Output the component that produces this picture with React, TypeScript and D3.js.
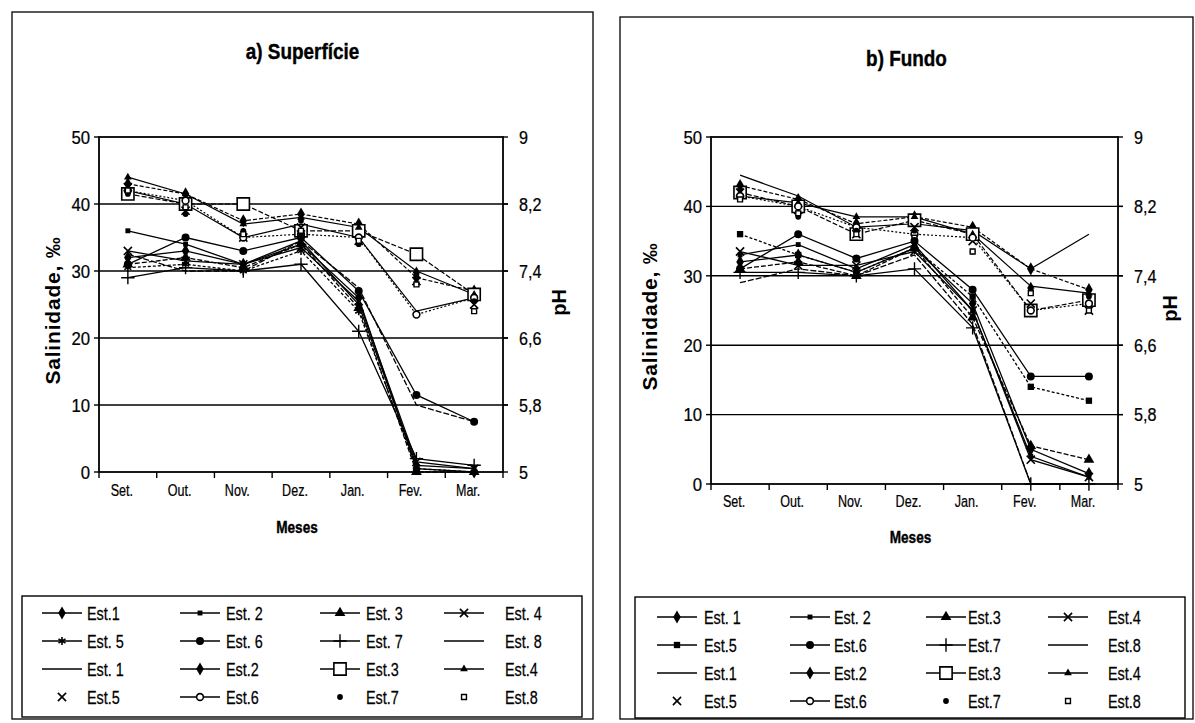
import * as d3 from 'd3';

const MONTHS = ['Set.', 'Out.', 'Nov.', 'Dez.', 'Jan.', 'Fev.', 'Mar.'];
const SAL_TICKS = [0, 10, 20, 30, 40, 50];
const PH_TICKS = [5, 5.8, 6.6, 7.4, 8.2, 9];

// Salinidade (‰), Est.1 .. Est.8
const SAL_SUPERFICIE = [
  [32, 33, 31, 34, 26, 0.5, 0],
  [36, 34, 31, 34.5, 25, 1, 0.5],
  [31, 32, 30.5, 34, 24.5, 0, 0],
  [33, 31.5, 31, 33.5, 25.5, 1.5, 0.5],
  [30.5, 31, 30, 33, 24, 0.5, 0],
  [31, 35, 33, 35, 27, 11.5, 7.5],
  [29, 30.5, 30, 31, 21, 2, 1],
  [32.5, 30, 30, 34.5, 27.5, 10, 7.5],
];
// pH, Est.1 .. Est.8
const PH_SUPERFICIE = [
  [8.36, 8.2, 7.8, 7.96, 7.8, 6.92, 7.08],
  [8.44, 8.32, 8.0, 8.08, 7.96, 7.32, 7.16],
  [8.32, 8.2, 8.2, 7.88, 7.88, 7.6, 7.12],
  [8.52, 8.32, 7.96, 8.04, 7.92, 7.4, 7.12],
  [8.4, 8.12, 7.8, 7.92, 7.76, 7.28, 7.0],
  [8.36, 8.24, 7.8, 7.84, 7.8, 6.88, 7.08],
  [8.32, 8.08, 7.88, 8.0, 7.72, 7.36, 7.04],
  [8.36, 8.16, 7.84, 7.88, 7.76, 7.24, 6.92],
];
const SAL_FUNDO = [
  [32, 33, 30.5, 34, 26, 5, 1.5],
  [33, 34.5, 31, 34.5, 25, 4, 1],
  [31, 32, 30, 34, 24, 5.5, 3.5],
  [33.5, 31.5, 31.5, 33.5, 25, 3.5, 1],
  [36, 33, 30.5, 34, 27, 14, 12],
  [31, 36, 32.5, 35, 28, 15.5, 15.5],
  [30.5, 30.5, 30, 31, 22.5, 0, 0],
  [29, 31, 30, 33, 23, 0, 0],
];
const PH_FUNDO = [
  [8.56, 8.32, 7.96, 8.0, 7.92, 7.48, 7.88],
  [8.44, 8.28, 8.0, 8.08, 7.96, 7.48, 7.24],
  [8.36, 8.2, 7.88, 8.04, 7.88, 7.0, 7.12],
  [8.32, 8.24, 8.08, 8.08, 7.88, 7.28, 7.2],
  [8.36, 8.16, 7.88, 7.96, 7.8, 7.08, 7.0],
  [8.32, 8.2, 7.96, 7.88, 7.84, 7.0, 7.08],
  [8.4, 8.08, 7.92, 7.92, 7.68, 7.24, 7.16],
  [8.28, 8.12, 7.88, 7.84, 7.68, 7.2, 7.0],
];

const LEGEND_A = [
  'Est.1', 'Est. 2', 'Est. 3', 'Est. 4', 'Est. 5', 'Est. 6', 'Est. 7', 'Est. 8',
  'Est. 1', 'Est.2', 'Est.3', 'Est.4', 'Est.5', 'Est.6', 'Est.7', 'Est.8',
];
const LEGEND_B = [
  'Est. 1', 'Est. 2', 'Est.3', 'Est.4', 'Est.5', 'Est.6', 'Est.7', 'Est.8',
  'Est.1', 'Est.2', 'Est.3', 'Est.4', 'Est.5', 'Est.6', 'Est.7', 'Est.8',
];

// marker / line style per series
const SAL_MARKERS_A = ['diamond', 'square', 'triangle', 'x', 'asterisk', 'circle', 'plus', 'none'];
const SAL_MARKERS_B = ['diamond', 'square', 'triangle', 'x', 'bigSquare', 'circle', 'plus', 'none'];
const PH_MARKERS = ['none', 'diamond', 'openSquare', 'smallTriangle', 'x', 'openCircle', 'dot', 'smallOpenSquare'];
const PH_HAS_LINE = [true, true, true, true, false, true, false, false];
const SAL_DASH = ['', '', '5,2', '', '3,2', '', '', '6,2'];
const PH_DASH = ['', '4,2', '5,2', '', '', '2,2', '', ''];

const FONT = '"Liberation Sans", Arial, sans-serif';

function CText({ x, y, size, sx = 0.8, bold = false, anchor = 'start', dy, children }: any) {
  return (
    <text
      transform={`translate(${x},${y}) scale(${sx},1)`}
      dy={dy}
      textAnchor={anchor}
      fontFamily={FONT}
      fontSize={size}
      fontWeight={bold ? 'bold' : 'normal'}
      stroke="#000"
      strokeWidth={bold ? 0.4 : 0.25}
    >
      {children}
    </text>
  );
}

function Marker({ kind, x, y }: { kind: string; x: number; y: number }) {
  const t = `translate(${x},${y})`;
  const sym = (type: d3.SymbolType, size: number) => d3.symbol().type(type).size(size)() || '';
  switch (kind) {
    case 'diamond':
      return <path transform={t} d={sym(d3.symbolDiamond, 50)} fill="#000" />;
    case 'square':
      return <path transform={t} d={sym(d3.symbolSquare, 24)} fill="#000" />;
    case 'bigSquare':
      return <path transform={t} d={sym(d3.symbolSquare, 40)} fill="#000" />;
    case 'triangle':
      return <path transform={t} d={sym(d3.symbolTriangle, 50)} fill="#000" />;
    case 'smallTriangle':
      return <path transform={t} d={sym(d3.symbolTriangle, 26)} fill="#000" />;
    case 'x':
      return <path transform={t} d={sym(d3.symbolTimes, 45)} fill="none" stroke="#000" strokeWidth={1.6} />;
    case 'asterisk':
      return <path transform={t} d={sym(d3.symbolAsterisk, 45)} fill="none" stroke="#000" strokeWidth={1.6} />;
    case 'circle':
      return <path transform={t} d={sym(d3.symbolCircle, 50)} fill="#000" />;
    case 'dot':
      return <path transform={t} d={sym(d3.symbolCircle, 26)} fill="#000" />;
    case 'plus':
      return <path transform={t} d={sym(d3.symbolPlus, 60)} fill="none" stroke="#000" strokeWidth={1.4} />;
    case 'openSquare':
      return <path transform={t} d={sym(d3.symbolSquare, 150)} fill="#fff" stroke="#000" strokeWidth={1.6} />;
    case 'openCircle':
      return <path transform={t} d={sym(d3.symbolCircle, 36)} fill="#fff" stroke="#000" strokeWidth={1.6} />;
    case 'smallOpenSquare':
      return <path transform={t} d={sym(d3.symbolSquare, 24)} fill="#fff" stroke="#000" strokeWidth={1.4} />;
    default:
      return null;
  }
}

interface PanelProps {
  box: [number, number, number, number];
  legendBox: [number, number, number, number];
  plot: { left: number; right: number; top: number; bottom: number };
  title: string;
  titleY: number;
  sal: number[][];
  ph: number[][];
  salMarkers: string[];
  legendLabels: string[];
  legendCols: number[];
  legendTextCols: number[];
  legendRows: number[];
  monthY: number;
  mesesY: number;
  yTitleX: number;
  phTitleX: number;
}

function Panel(p: PanelProps) {
  const { plot } = p;
  const x = d3.scaleBand<string>().domain(MONTHS).range([plot.left, plot.right]);
  const cx = (i: number) => (x(MONTHS[i]) as number) + x.bandwidth() / 2;
  const ySal = d3.scaleLinear().domain([0, 50]).range([plot.bottom, plot.top]);
  const yPh = d3.scaleLinear().domain([5, 9]).range([plot.bottom, plot.top]);
  const lineSal = d3.line<number>().x((_, i) => cx(i)).y((d) => ySal(d));
  const linePh = d3.line<number>().x((_, i) => cx(i)).y((d) => yPh(d));
  const midY = (plot.top + plot.bottom) / 2 + 6;
  const legendKinds = [...p.salMarkers, ...PH_MARKERS];
  const legendLine = [true, true, true, true, true, true, true, true, ...PH_HAS_LINE];

  return (
    <g>
      <rect x={p.box[0]} y={p.box[1]} width={p.box[2]} height={p.box[3]} fill="none" stroke="#000" strokeWidth={1.3} />
      <CText x={(p.box[0] * 2 + p.box[2]) / 2} y={p.titleY} size={22} sx={0.86} bold anchor="middle">
        {p.title}
      </CText>

      {/* grid */}
      {SAL_TICKS.slice(1, -1).map((t) => (
        <line key={t} x1={plot.left} x2={plot.right + 5} y1={ySal(t)} y2={ySal(t)} stroke="#000" strokeWidth={1.4} />
      ))}
      <rect x={plot.left} y={plot.top} width={plot.right - plot.left} height={plot.bottom - plot.top} fill="none" stroke="#000" strokeWidth={1.8} />

      {/* left axis */}
      {SAL_TICKS.map((t) => (
        <g key={t}>
          <line x1={plot.left - 5} x2={plot.left} y1={ySal(t)} y2={ySal(t)} stroke="#000" strokeWidth={1.4} />
          <CText x={plot.left - 9} y={ySal(t)} dy="0.36em" size={19} sx={0.88} anchor="end">
            {t}
          </CText>
        </g>
      ))}
      {/* right axis */}
      {PH_TICKS.map((t) => (
        <g key={t}>
          <line x1={plot.right} x2={plot.right + 5} y1={yPh(t)} y2={yPh(t)} stroke="#000" strokeWidth={1.4} />
          <CText x={plot.right + 16} y={yPh(t)} dy="0.36em" size={19} sx={0.85}>
            {String(t).replace('.', ',')}
          </CText>
        </g>
      ))}
      {/* x ticks */}
      {d3.range(MONTHS.length + 1).map((i) => {
        const xx = plot.left + i * x.bandwidth();
        return <line key={i} x1={xx} x2={xx} y1={plot.bottom} y2={plot.bottom + 6} stroke="#000" strokeWidth={1.4} />;
      })}
      {MONTHS.map((m, i) => (
        <CText key={m} x={cx(i) - 6} y={p.monthY} size={17} sx={0.74} anchor="middle">
          {m}
        </CText>
      ))}
      <CText x={(plot.left + plot.right) / 2 - 4} y={p.mesesY} size={17} sx={0.8} bold anchor="middle">
        Meses
      </CText>
      <text
        transform={`translate(${p.yTitleX},${midY}) rotate(-90)`}
        textAnchor="middle"
        fontFamily={FONT}
        fontWeight="bold"
        fontSize={21}
        letterSpacing={0.8}
      >
        Salinidade, ‰
      </text>
      <text transform={`translate(${p.phTitleX},${midY - 8}) rotate(-90)`} textAnchor="middle" fontFamily={FONT} fontWeight="bold" fontSize={20}>
        pH
      </text>

      {/* series */}
      {p.ph.map((s, k) =>
        PH_HAS_LINE[k] ? (
          <path key={'pl' + k} d={linePh(s) || ''} fill="none" stroke="#000" strokeWidth={1.2} strokeDasharray={PH_DASH[k]} />
        ) : null
      )}
      {p.sal.map((s, k) => (
        <path key={'sl' + k} d={lineSal(s) || ''} fill="none" stroke="#000" strokeWidth={1.3} strokeDasharray={SAL_DASH[k]} />
      ))}
      {p.ph.map((s, k) => s.map((v, i) => <Marker key={`pm${k}-${i}`} kind={PH_MARKERS[k]} x={cx(i)} y={yPh(v)} />))}
      {p.sal.map((s, k) => s.map((v, i) => <Marker key={`sm${k}-${i}`} kind={p.salMarkers[k]} x={cx(i)} y={ySal(v)} />))}

      {/* legend */}
      <rect x={p.legendBox[0]} y={p.legendBox[1]} width={p.legendBox[2]} height={p.legendBox[3]} fill="none" stroke="#000" strokeWidth={1.4} />
      {p.legendLabels.map((lab, j) => {
        const col = j % 4;
        const row = Math.floor(j / 4);
        const lx = p.legendCols[col];
        const ly = p.legendRows[row];
        return (
          <g key={'lg' + j}>
            {legendLine[j] && <line x1={lx} x2={lx + 40} y1={ly} y2={ly} stroke="#000" strokeWidth={1.5} />}
            <Marker kind={legendKinds[j]} x={lx + 20} y={ly} />
            <CText x={p.legendTextCols[col]} y={ly} dy="0.36em" size={19} sx={0.76}>
              {lab}
            </CText>
          </g>
        );
      })}
    </g>
  );
}

export default function App() {
  return (
    <svg width={1195} height={723} style={{ position: 'absolute', left: 0, top: 0, background: '#fff' }}>
      <rect x={0} y={0} width={1195} height={723} fill="#fff" />
      <Panel
        box={[12, 12, 581, 707]}
        legendBox={[22, 596, 560, 121]}
        plot={{ left: 99, right: 503, top: 137, bottom: 472 }}
        title="a) Superfície"
        titleY={59}
        sal={SAL_SUPERFICIE}
        ph={PH_SUPERFICIE}
        salMarkers={SAL_MARKERS_A}
        legendLabels={LEGEND_A}
        legendCols={[42, 180, 320, 444]}
        legendTextCols={[87, 226, 366, 505]}
        legendRows={[613, 641, 669, 697]}
        monthY={496}
        mesesY={533}
        yTitleX={60}
        phTitleX={566}
      />
      <Panel
        box={[620, 17, 573, 702]}
        legendBox={[635, 597, 550, 121]}
        plot={{ left: 711, right: 1118, top: 137, bottom: 484 }}
        title="b) Fundo"
        titleY={66}
        sal={SAL_FUNDO}
        ph={PH_FUNDO}
        salMarkers={SAL_MARKERS_B}
        legendLabels={LEGEND_B}
        legendCols={[657, 790, 926, 1048]}
        legendTextCols={[704, 834, 968, 1108]}
        legendRows={[617, 645, 673, 701]}
        monthY={507}
        mesesY={543}
        yTitleX={657}
        phTitleX={1177}
      />
    </svg>
  );
}
